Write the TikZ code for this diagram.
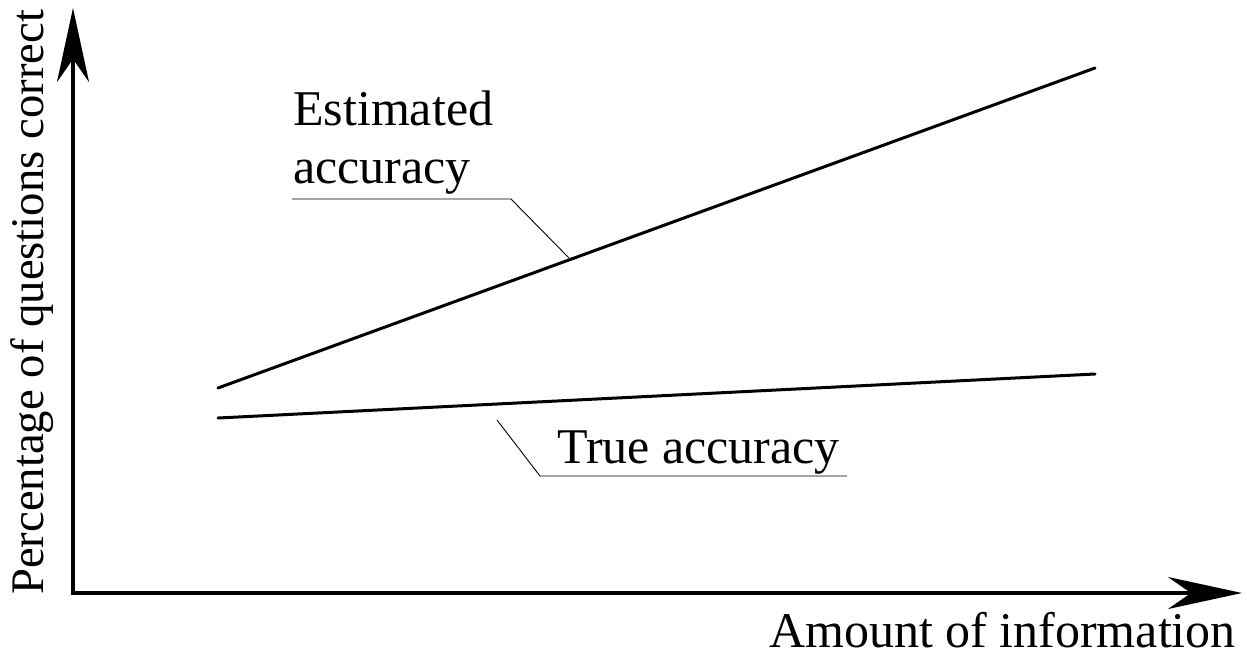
\documentclass[tikz,border=0pt]{standalone}
\usepackage{fontspec}
\setmainfont{Liberation Serif}
\usetikzlibrary{arrows.meta}
\begin{document}
\begin{tikzpicture}[x=1pt,y=-1pt,
  axis/.style={line width=4pt,-{Stealth[length=74pt,width=32pt,inset=23pt]}},
  curve/.style={line width=3pt,line cap=round},
  leader/.style={line width=0.9pt},
  lbl/.style={inner sep=0pt,font=\fontsize{50}{58}\selectfont}]
\useasboundingbox (0,0) rectangle (1247,657);
\coordinate (o) at (73,593);
\coordinate (ytip) at (73,8);
\coordinate (xtip) at (1242,593);
\draw[axis] ([yshift=2pt]o) -- (ytip);
\draw[axis] ([xshift=-2pt]o) -- (xtip);
\coordinate (e1) at (218,388);
\coordinate (e2) at (1095,68);
\coordinate (t1) at (218,418);
\coordinate (t2) at (1095,374);
\draw[curve] (e1) -- (e2);
\draw[curve] (t1) -- (t2);
\node[lbl,anchor=base west,align=left] (est) at (293,183) {Estimated\\accuracy};
\node[lbl,anchor=base west] (tru) at (557,463) {True accuracy};
\node[lbl,anchor=base east] (xl) at (1236,647) {Amount of information};
\node[lbl,anchor=base west,rotate=90,font=\fontsize{46.7}{56}\selectfont] (yl) at (43,595) {Percentage of questions correct};
\coordinate (ea) at (292,199);
\coordinate (eb) at (511,199);
\coordinate (ec) at (569,258);
\draw[leader] (ea) -- (eb) -- (ec);
\coordinate (ta) at (497,420);
\coordinate (tb) at (540,476);
\coordinate (tc) at (847,476);
\draw[leader] (ta) -- (tb) -- (tc);
\end{tikzpicture}
\end{document}
